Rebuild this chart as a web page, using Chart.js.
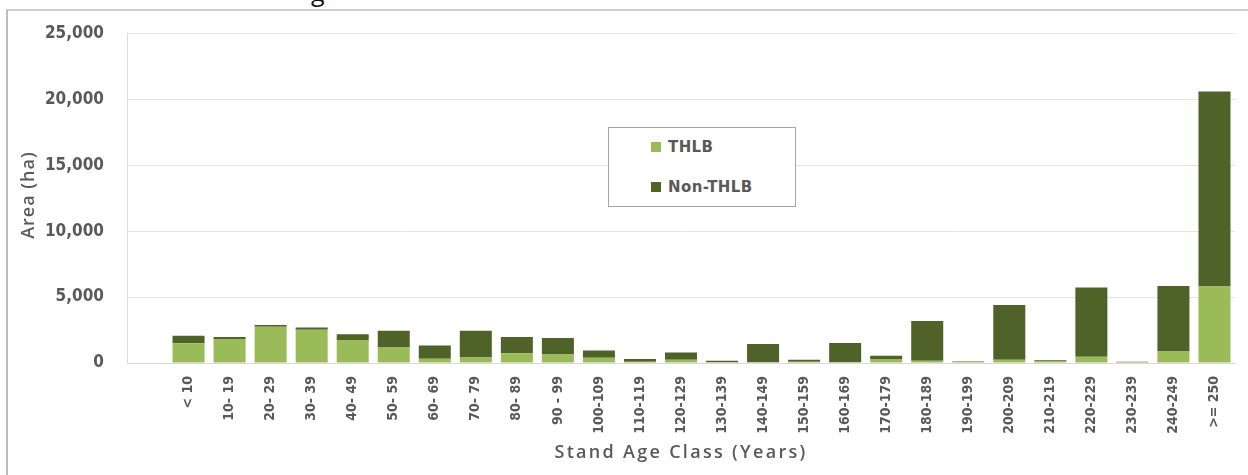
<!DOCTYPE html>
<html>
<head>
<meta charset="utf-8">
<script src="https://cdn.jsdelivr.net/npm/chart.js@4"></script>
<style>
  html, body { margin: 0; padding: 0; background: #ffffff; }
  #wrap { position: relative; width: 1248px; height: 475px; overflow: hidden; background: #fff; }
  #frame { position: absolute; left: 6px; top: 9px; right: -10px; bottom: -10px;
           border-left: 2px solid #bdbdbd; border-top: 2px solid #cfcfcf; }
  #cut { position: absolute; left: 311px; top: -22px; font: 25px "Open Sans", sans-serif; line-height: 26px; color: #111; }
  #chartBox { position: absolute; left: 0; top: 0; width: 1248px; height: 475px; }
  #legend { position: absolute; left: 608px; top: 127px; width: 186px; height: 78px;
            border: 1.5px solid #a6a6a6; background: #fff; box-sizing: content-box; }
  .item { position: absolute; left: 42px; font: bold 15px "DejaVu Sans", sans-serif; color: #595959; letter-spacing: 0.4px; }
  .sw { display: inline-block; width: 10px; height: 10px; margin-right: 7px; vertical-align: 0px; }
</style>
</head>
<body>
<div id="wrap">
  <div id="frame"></div>
  <div id="cut">g</div>
  <div id="chartBox"><canvas id="c"></canvas></div>
  <div id="legend"></div>
</div>
<script>
// ---- data ----
const categories = ['', '< 10', '10- 19', '20- 29', '30- 39', '40- 49', '50- 59', '60- 69', '70- 79', '80- 89', '90 - 99',
  '100-109', '110-119', '120-129', '130-139', '140-149', '150-159', '160-169', '170-179', '180-189', '190-199',
  '200-209', '210-219', '220-229', '230-239', '240-249', '>= 250'];
const thlb =    [null, 1500, 1820, 2750, 2520, 1740, 1180, 330, 420, 730, 650,
  400, 100, 250, 50, 50, 100, 50, 300, 170, 80,
  250, 150, 480, 60, 880, 5800];
const nonThlb = [null, 570, 150, 130, 180, 430, 1270, 1000, 2030, 1240, 1240,
  555, 200, 550, 120, 1390, 150, 1465, 250, 3010, 40,
  4150, 50, 5250, 40, 4950, 14780];
const yTicks = [0, 5000, 10000, 15000, 20000, 25000];
const seriesNames = ['THLB', 'Non-THLB'];
const seriesColors = ['#9bbb59', '#4f6228'];
const xTitle = 'Stand Age Class (Years)';
const yTitle = 'Area (ha)';

const titlePlugin = {
  id: 'axisTitles',
  afterDraw(chart) {
    const { ctx, chartArea } = chart;
    ctx.save();
    ctx.fillStyle = '#595959';
    ctx.textAlign = 'center';
    ctx.textBaseline = 'middle';
    ctx.font = '600 18px "Open Sans"';
    ctx.letterSpacing = '2.3px';
    ctx.fillText(xTitle, (chartArea.left + chartArea.right) / 2, chart.scales.x.bottom - 22);
    ctx.letterSpacing = '1px';
    ctx.translate(29, (chartArea.top + chartArea.bottom) / 2 - 3);
    ctx.rotate(-Math.PI / 2);
    ctx.fillText(yTitle, 0, 0);
    ctx.restore();
  }
};

const chart = new Chart(document.getElementById('c'), {
  type: 'bar',
  data: {
    labels: categories,
    datasets: [
      { label: seriesNames[0], data: thlb, backgroundColor: seriesColors[0] },
      { label: seriesNames[1], data: nonThlb, backgroundColor: seriesColors[1] }
    ]
  },
  options: {
    responsive: true,
    maintainAspectRatio: false,
    animation: false,
    devicePixelRatio: 1,
    layout: { padding: { left: 0, right: 13, top: 33, bottom: 0 } },
    plugins: { legend: { display: false }, tooltip: { enabled: false } },
    datasets: { bar: { barPercentage: 0.78, categoryPercentage: 1.0 } },
    scales: {
      x: {
        stacked: true,
        grid: { display: false, drawTicks: false },
        border: { display: true, color: '#d9d9d9' },
        ticks: {
          autoSkip: false, maxRotation: 90, minRotation: 90, padding: 13,
          color: '#595959', font: { family: '"DejaVu Sans Condensed"', size: 14, weight: 'bold' }
        },
        afterFit(scale) { scale.height = 112; }
      },
      y: {
        stacked: true,
        min: 0, max: 25000,
        afterBuildTicks(scale) { scale.ticks = yTicks.map(v => ({ value: v })); },
        grid: { color: '#e3e3e3', drawTicks: false, lineWidth: 1 },
        border: { display: true, color: '#dcdcdc' },
        ticks: {
          padding: 23, color: '#595959',
          font: { family: '"DejaVu Sans Condensed"', size: 17, weight: 'bold' },
          callback: v => v.toLocaleString('en-US')
        },
        afterFit(scale) { scale.width = 127; }
      }
    }
  },
  plugins: [titlePlugin]
});

// HTML legend built from the datasets
const legend = document.getElementById('legend');
chart.data.datasets.forEach((ds, i) => {
  const it = document.createElement('div');
  it.className = 'item';
  it.style.top = (i === 0 ? 10 : 50) + 'px';
  const sw = document.createElement('span');
  sw.className = 'sw';
  sw.style.background = ds.backgroundColor;
  it.appendChild(sw);
  it.appendChild(document.createTextNode(ds.label));
  legend.appendChild(it);
});
</script>
</body>
</html>
